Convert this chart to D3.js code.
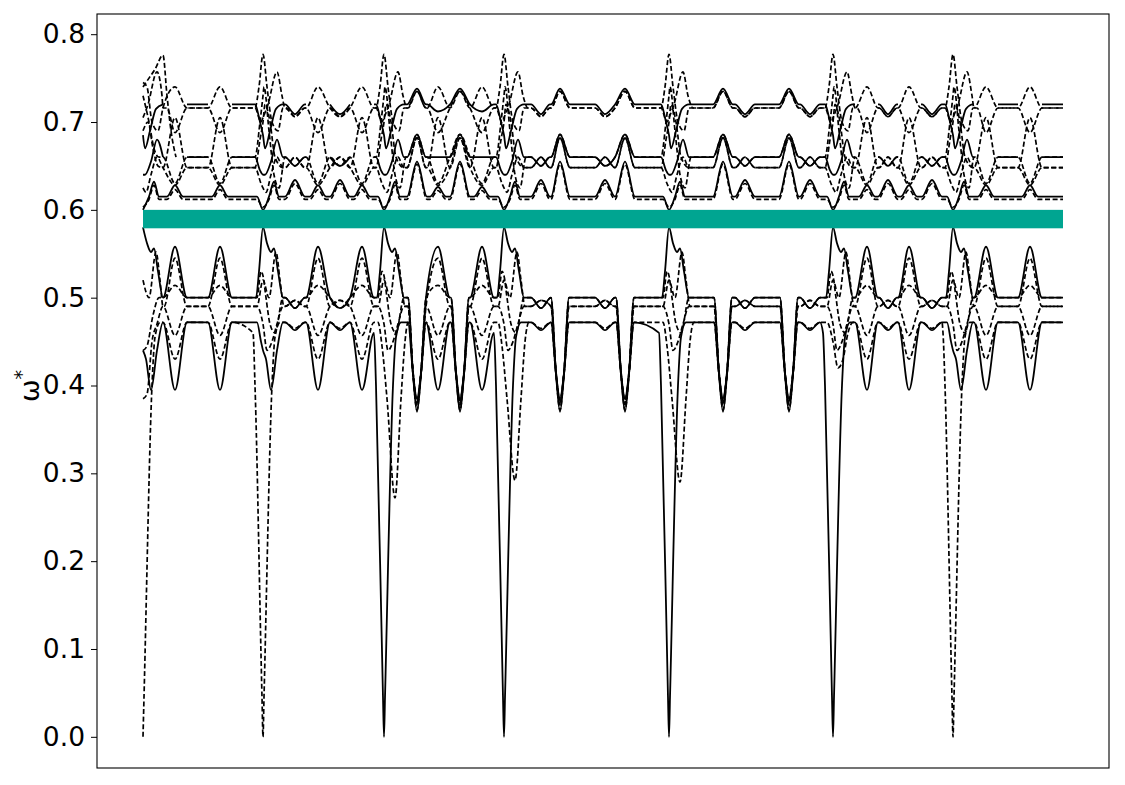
<!DOCTYPE html>
<html><head><meta charset="utf-8">
<script src="https://cdn.jsdelivr.net/npm/d3@7"></script>
<style>body{margin:0;background:#fff} svg text{font-family:"DejaVu Sans",sans-serif}</style>
</head><body><svg id="c" width="1125" height="785"></svg>
<script>
// ---------------- DATA ----------------
// path coordinate of the Γ points and of the path end
const gammaK = [0,120,241,361,526,690,810];
const endK = 920;
// features between Γ points (L = lens, L3 = lens in 3rd segment, U = deep dip, X = crossing)
const featureK    = [32,77,152,175,197,219,274,295,317,339,398,417,462,482,580,602,646,667,724,745,766,789,843,887];
const featureType = ["L","L","X","L","X","L","U","L3","U","L3","X","U","X","U","U","X","U","X","L","X","L","X","L","L"];
const yTicks = [0,0.1,0.2,0.3,0.4,0.5,0.6,0.7,0.8];
const gapBand = [0.579,0.600];

const bandNames  = ["LA","LB","LE","LF","LC","LD","UA","UB","UG","UH","UI","UC","UD","UE","UF"];
const bandDashed = [false,true,true,true,false,true,false,true,true,true,true,false,true,false,true];
const bandBase   = [.500,.490,.500,.490,.472,.472,.720,.716,.716,.648,.660,.660,.648,.615,.612];
const bandLens   = [.558,.545,.514,.457,.395,.430,null,.740,.688,.705,.630,null,.628,.628,.623];
const bandLens3  = [.558,.545,.514,.457,.395,.430,.712,.740,.688,.705,.630,.660,.628,.626,.622];
const bandU      = [.370,.380,.372,.378,.385,.383,.738,.735,.735,.682,.686,.686,.682,.655,.652];
const bandX      = [.488,.497,.488,.497,.463,.465,.709,.706,.706,.660,.650,.650,.660,.634,.630];

// band values around each Γ point: [offset, value]
const gpLA = [[-7,.50],[-4,.53],[0,.58],[4,.562],[8,.552],[11,.556],[15,.53],[20,.5]];
const gpLB = [[-6,.49],[0,.52],[6,.50],[13,.552],[17,.52],[21,.49]];
const gpLE = [[-6,.5],[-2,.53],[0,.525],[3,.50],[7,.47],[12,.46],[20,.5]];
const gpLF = [[-6,.49],[0,.47],[4,.44],[9,.45],[14,.47],[20,.49]];
const gpLC = [[-6,.472],[-2,.45],[0,.44],[3,.43],[8,.395],[14,.44],[20,.472]];
const gpLD = [[-6,.472],[0,.45],[5,.42],[10,.43],[15,.46],[20,.472]];
const gpUA = [[-8,.72],[-3,.70],[0,.685],[2,.67],[7,.69],[13,.715],[20,.72]];
const gpUB = [[-8,.716],[-4,.74],[0,.777],[4,.74],[9,.70],[15,.69],[20,.716]];
const gpUG = [[-8,.716],[-2,.70],[0,.705],[5,.72],[14,.757],[19,.73],[24,.716]];
const gpUH = [[-8,.648],[-3,.68],[0,.70],[2,.72],[7,.70],[12,.66],[20,.648]];
const gpUI = [[-8,.66],[-3,.70],[0,.73],[1,.74],[6,.69],[11,.64],[16,.625],[22,.66]];
const gpUC = [[-8,.66],[-3,.645],[0,.64],[2,.64],[8,.655],[14,.68],[20,.66]];
const gpUD = [[-8,.648],[-2,.63],[0,.625],[3,.62],[8,.64],[14,.66],[20,.648]];
const gpUE = [[-6,.615],[0,.600],[6,.615],[11,.632],[16,.615]];
const gpUF = [[-6,.612],[0,.603],[6,.612],[11,.628],[16,.612]];
const gammaProfiles = [gpLA,gpLB,gpLE,gpLF,gpLC,gpLD,gpUA,gpUB,gpUG,gpUH,gpUI,gpUC,gpUD,gpUE,gpUF];

// acoustic branch reaching zero at each Γ, and the secondary dip
const acousticBandAtGamma = ["LD","LD","LC","LC","LC","LC","LD"];
const acousticProfile = [[-10,.46],[-8,.40],[-1,.045],[0,0],[1,.045],[9,.40],[12,.455],[17,.472]];
const dipBandAtGamma  = [null,null,"LD","LD","LD",null,null];
const dipValueAtGamma = [null,null,0.272,0.292,0.290,null,null];
const dipProfile = [[-6,.472],[-2,.445],[3,.385],[11,null],[17,.385],[21,.45],[25,.472]];

// values at the start of the path
const startUB = [[0,.745],[4,.74],[9,.70],[15,.69],[20,.716]];
const startLF = [[0,.385],[4,.39],[9,.45],[14,.47],[20,.49]];
const startLE = [[0,.44],[4,.445],[10,.48],[16,.5],[20,.5]];
const startUH = [[0,.69],[5,.70],[10,.67],[15,.65],[20,.648]];
const startUI = [[0,.73],[6,.70],[11,.67],[16,.66],[20,.66]];
const startProfiles = [null,null,startLE,startLF,null,null,null,startUB,null,startUH,startUI,null,null,null,null];
const startSpike = [[0,.74],[6,.75],[12,.76],[20,.776],[24,.73],[28,.69],[33,.66]];

// ---------------- DRAWING ----------------
const mLeft=97, mRight=1109, mTop=14, mBottom=768;
const svg = d3.select("#c");
const x = d3.scaleLinear().domain([-46,966]).range([mLeft,mRight]);
const y = d3.scaleLinear().domain([-0.0355,0.823]).range([mBottom,mTop]);

svg.append("clipPath").attr("id","clip").append("rect")
  .attr("x",mLeft).attr("y",mTop).attr("width",mRight-mLeft).attr("height",mBottom-mTop);
const g = svg.append("g").attr("clip-path","url(#clip)");

function buildBand(i){
  const pts = new Map();
  const put = (k,v)=>pts.set(Math.round(k*10)/10, v);
  const base = bandBase[i], name = bandNames[i];
  const lower = base < 0.55;
  const narrow = (name==="UE"||name==="UF");
  featureK.forEach((c,j)=>{
    const t = featureType[j];
    const v = t==="L"?bandLens[i]: t==="L3"?bandLens3[i]: t==="U"?bandU[i]: bandX[i];
    const h = t==="X"?10 : t==="U"?(lower?9:10) : (narrow?8:12);
    put(c-h, base); put(c+h, base);
    if (t==="U" && lower){ const m = v+(base-v)*0.33; put(c-4,m); put(c+4,m); }
    put(c, v);
  });
  gammaK.forEach((gk,gi)=>{
    let prof = gammaProfiles[i];
    if (acousticBandAtGamma[gi]===name) prof = acousticProfile;
    else if (dipBandAtGamma[gi]===name) prof = dipProfile.map(([d,v])=>[d, v===null?dipValueAtGamma[gi]:v]);
    if (gi===0){ if (startProfiles[i]) prof = startProfiles[i]; prof = prof.filter(p=>p[0]>=0); }
    prof.forEach(([d,v])=>put(gk+d,v));
  });
  put(endK, base);
  return Array.from(pts, ([k,v])=>({k,v})).sort((a,b)=>a.k-b.k);
}

const line = d3.line().defined(d=>d.v!==null)
  .x(d=>x(d.k)).y(d=>y(d.v)).curve(d3.curveMonotoneX);

const order = d3.range(bandNames.length).sort((a,b)=>(bandDashed[b]?1:0)-(bandDashed[a]?1:0));
order.forEach(i=>{
  g.append("path").datum(buildBand(i))
    .attr("fill","none").attr("stroke","#000")
    .attr("stroke-width", bandDashed[i]?1.7:1.8)
    .attr("stroke-dasharray", bandDashed[i]?"5,2.6":null)
    .attr("stroke-linejoin","round")
    .attr("d", line);
});
g.append("path").datum(startSpike.map(([k,v])=>({k,v})))
  .attr("fill","none").attr("stroke","#000").attr("stroke-width",1.7)
  .attr("stroke-dasharray","5,2.6").attr("d", line);

// band gap
g.append("rect")
  .attr("x", x(0)).attr("width", x(endK)-x(0))
  .attr("y", y(gapBand[1])).attr("height", y(gapBand[0])-y(gapBand[1]))
  .attr("fill","#00a591");

// axes and frame
const ax = svg.append("g").attr("transform",`translate(${mLeft},0)`)
  .call(d3.axisLeft(y).tickValues(yTicks).tickFormat(d3.format(".1f")).tickSize(6).tickPadding(6));
ax.select(".domain").remove();
ax.selectAll(".tick line").attr("stroke","#000").attr("stroke-width",1);
ax.selectAll(".tick text").attr("fill","#000").style("font-size","26.5px").style("font-family","DejaVu Sans");

svg.append("rect").attr("x",mLeft).attr("y",mTop).attr("width",mRight-mLeft).attr("height",mBottom-mTop)
  .attr("fill","none").attr("stroke","#000").attr("stroke-width",1.1);

const yl = svg.append("text").attr("transform","translate(39,386) rotate(-90)")
  .attr("text-anchor","middle").style("font-size","27px").attr("fill","#000");
yl.append("tspan").text("ω");
yl.append("tspan").attr("baseline-shift","super").style("font-size","19px").text("*");
</script></body></html>
